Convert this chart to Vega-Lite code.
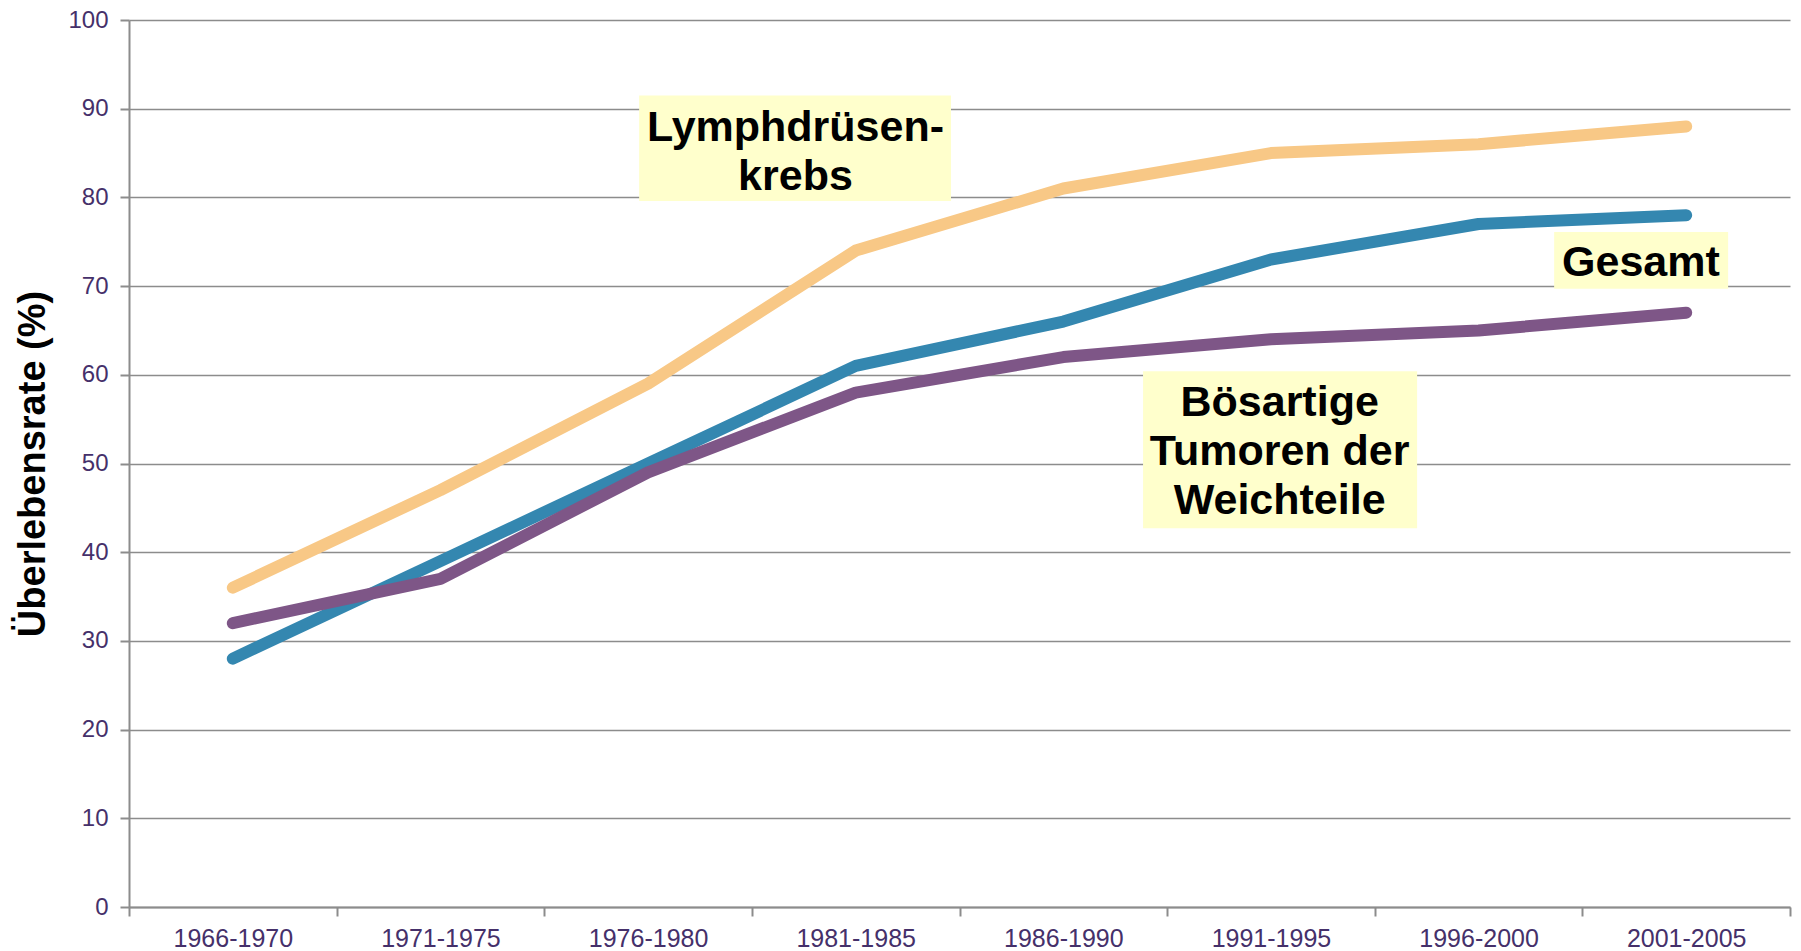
{
  "$schema": "https://vega.github.io/schema/vega-lite/v6.json",
  "autosize": {"type": "none"},
  "width": 1661,
  "height": 887,
  "padding": {"left": 129, "top": 20, "right": 11, "bottom": 44},
  "background": "white",
  "config": {
    "view": {"stroke": null},
    "font": "Liberation Sans"
  },
  "datasets": {
    "lines": [
      {"period": "1966-1970", "series": "Gesamt", "value": 28},
      {"period": "1971-1975", "series": "Gesamt", "value": 39},
      {"period": "1976-1980", "series": "Gesamt", "value": 50},
      {"period": "1981-1985", "series": "Gesamt", "value": 61},
      {"period": "1986-1990", "series": "Gesamt", "value": 66},
      {"period": "1991-1995", "series": "Gesamt", "value": 73},
      {"period": "1996-2000", "series": "Gesamt", "value": 77},
      {"period": "2001-2005", "series": "Gesamt", "value": 78},
      {"period": "1966-1970", "series": "Lymphdrüsenkrebs", "value": 36},
      {"period": "1971-1975", "series": "Lymphdrüsenkrebs", "value": 47},
      {"period": "1976-1980", "series": "Lymphdrüsenkrebs", "value": 59},
      {"period": "1981-1985", "series": "Lymphdrüsenkrebs", "value": 74},
      {"period": "1986-1990", "series": "Lymphdrüsenkrebs", "value": 81},
      {"period": "1991-1995", "series": "Lymphdrüsenkrebs", "value": 85},
      {"period": "1996-2000", "series": "Lymphdrüsenkrebs", "value": 86},
      {"period": "2001-2005", "series": "Lymphdrüsenkrebs", "value": 88},
      {"period": "1966-1970", "series": "Weichteile", "value": 32},
      {"period": "1971-1975", "series": "Weichteile", "value": 37},
      {"period": "1976-1980", "series": "Weichteile", "value": 49},
      {"period": "1981-1985", "series": "Weichteile", "value": 58},
      {"period": "1986-1990", "series": "Weichteile", "value": 62},
      {"period": "1991-1995", "series": "Weichteile", "value": 64},
      {"period": "1996-2000", "series": "Weichteile", "value": 65},
      {"period": "2001-2005", "series": "Weichteile", "value": 67}
    ],
    "boxes": [
      {"x1": 2.457, "x2": 3.959, "y1": 79.6, "y2": 91.5},
      {"x1": 6.864, "x2": 7.702, "y1": 69.7, "y2": 76.1},
      {"x1": 4.884, "x2": 6.204, "y1": 42.7, "y2": 60.4}
    ],
    "labels": [
      {"xq": 3.21, "y": 87.8, "text": ["Lymphdrüsen-", "krebs"]},
      {"xq": 7.282, "y": 72.55, "text": ["Gesamt"]},
      {"xq": 5.542, "y": 56.85, "text": ["Bösartige", "Tumoren der", "Weichteile"]}
    ]
  },
  "resolve": {"scale": {"x": "independent"}},
  "layer": [
    {
      "data": {"name": "lines"},
      "mark": {"type": "line", "strokeWidth": 12, "strokeCap": "round", "strokeJoin": "round"},
      "encoding": {
        "x": {
          "field": "period", "type": "nominal", "bandPosition": 0.5,
          "scale": {"type": "band", "paddingInner": 0, "paddingOuter": 0},
          "axis": {
            "title": null, "labelAngle": 0, "labelFontSize": 25, "labelColor": "#45306a",
            "labelPadding": 10, "tickBand": "extent", "tickSize": 9, "tickColor": "#8c8c8c",
            "tickWidth": 2, "domainColor": "#8c8c8c", "domainWidth": 2, "grid": false
          }
        },
        "y": {
          "field": "value", "type": "quantitative",
          "scale": {"domain": [0, 100], "nice": false},
          "axis": {
            "title": "Überlebensrate (%)", "titleFontSize": 38, "titleFontWeight": "bold",
            "titleColor": "black", "titleAngle": 270, "titleBaseline": "alphabetic", "titleX": -85,
            "values": [0, 10, 20, 30, 40, 50, 60, 70, 80, 90, 100],
            "labelFontSize": 24, "labelColor": "#45306a", "labelPadding": 12,
            "tickSize": 9, "tickColor": "#8c8c8c", "tickWidth": 2,
            "domainColor": "#8c8c8c", "domainWidth": 2,
            "grid": true, "gridColor": "#8c8c8c", "gridWidth": 1.5
          }
        },
        "color": {
          "field": "series", "type": "nominal",
          "scale": {"domain": ["Gesamt", "Lymphdrüsenkrebs", "Weichteile"], "range": ["#3487b0", "#f8c886", "#7e5687"]},
          "legend": null
        },
        "order": {"field": "period"}
      }
    },
    {
      "data": {"name": "boxes"},
      "mark": {"type": "rect", "color": "#ffffcc"},
      "encoding": {
        "x": {"field": "x1", "type": "quantitative", "scale": {"domain": [0, 8], "nice": false, "zero": false}, "axis": null},
        "x2": {"field": "x2"},
        "y": {"field": "y1", "type": "quantitative"},
        "y2": {"field": "y2"}
      }
    },
    {
      "data": {"name": "labels"},
      "mark": {"type": "text", "fontSize": 43, "fontWeight": "bold", "lineHeight": 49, "align": "center", "baseline": "middle", "color": "black", "font": "Liberation Sans"},
      "encoding": {
        "x": {"field": "xq", "type": "quantitative", "scale": {"domain": [0, 8], "nice": false, "zero": false}, "axis": null},
        "y": {"field": "y", "type": "quantitative"},
        "text": {"field": "text"}
      }
    }
  ]
}
